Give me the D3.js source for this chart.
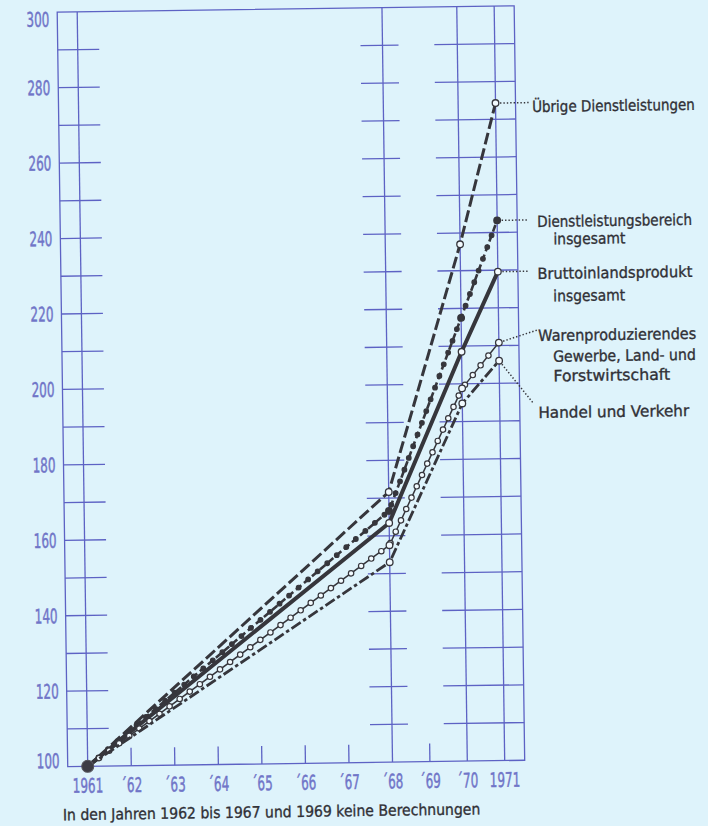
<!DOCTYPE html>
<html>
<head>
<meta charset="utf-8">
<script src="https://cdn.jsdelivr.net/npm/d3@7"></script>
<style>
  html, body { margin: 0; padding: 0; background: #def3fb; }
  svg { display: block; }
</style>
</head>
<body>
<svg id="chart" width="708" height="826"></svg>
<script>
// ---------------- DATA ----------------
const years = [1961, 1968, 1970, 1971];
const uebrigeDienstleistungen = [100, 171.6, 237.0, 274.3];
const dienstleistungsbereich = [100, 166.6, 217.5, 243.2];
const bruttoinlandsprodukt = [100, 163.4, 208.5, 229.6];
const warenproduzierendes = [100, 157.5, 198.8, 210.8];
const handelVerkehr = [100, 153.0, 194.8, 206.0];

const yTickLabels = [100, 120, 140, 160, 180, 200, 220, 240, 260, 280, 300];
const yGridValues = [110, 120, 130, 140, 150, 160, 170, 180, 190, 200, 210, 220, 230, 240, 250, 260, 270, 280, 290];
const xTickYears = [1961, 1962, 1963, 1964, 1965, 1966, 1967, 1968, 1969, 1970, 1971];
const xTickLabels = ["1961", "´62", "´63", "´64", "´65", "´66", "´67", "´68", "´69", "´70", "1971"];
const fullLineYears = [1961, 1968, 1970, 1971];

const seriesLabels = [
  ["Übrige Dienstleistungen"],
  ["Dienstleistungsbereich", "insgesamt"],
  ["Bruttoinlandsprodukt", "insgesamt"],
  ["Warenproduzierendes", "Gewerbe, Land- und", "Forstwirtschaft"],
  ["Handel und Verkehr"]
];
const footnote = "In den Jahren 1962 bis 1967 und 1969 keine Berechnungen";

// ---------------- LAYOUT / STYLE ----------------
const gridColor = "#5d62c4";
const axisTextColor = "#7075c8";
const inkColor = "#36363c";
const holeFill = "#f3fbff";

const x = d3.scaleLinear().domain([1961, 1968, 1971]).range([82.5, 387.3, 499.5]);
const y = d3.scaleLinear().domain([100, 300]).range([763.5, 9]);
const frameLeft = 62.5, frameRight = 519.5;

const seriesValues = [uebrigeDienstleistungen, dienstleistungsbereich, bruttoinlandsprodukt, warenproduzierendes, handelVerkehr];
const seriesStyle = [
  { dash: "12,4", width: 3.0, marker: "open", bead: null },
  { dash: "7,3.5", width: 2.6, marker: "filled", bead: { r: 2.3, spacing: 12.5, fill: inkColor } },
  { dash: null, width: 4.0, marker: "open", bead: null },
  { dash: null, width: 1.5, marker: "open", bead: { r: 2.7, spacing: 12.5, fill: holeFill } },
  { dash: "11,3,3.5,3", width: 2.8, marker: "open", bead: null }
];
const labelLayout = [
  { x: 536, x2: 536, base: [115.5], w: [163] },
  { x: 539.5, x2: 555.5, base: [230.5, 248], w: [155] , w2: [72]},
  { x: 539, x2: 554.5, base: [282.5, 305], w: [155] },
  { x: 539, x2: 553.5, base: [344.5, 365.5, 385], w: [158] },
  { x: 538, x2: 538, base: [421.5], w: [151] }
];
const labelWidths = [[163], [155, 72], [155, 72], [158, 143, 117], [151]];
const leaderEnds = [[533, null], [531, null], [530, null], [538, 333.5], [533, 406.5]];

// ---------------- DRAW ----------------
const svg = d3.select("#chart");
const g = svg.append("g").attr("transform", "rotate(-0.8,290,390)");

// helper: condensed text fitted to a target width via horizontal scaling
function fittedText(parent, str, tx, ty, width, opts) {
  const wrap = parent.append("g");
  const t = wrap.append("text")
    .attr("x", 0).attr("y", 0)
    .attr("font-family", opts.font).attr("font-size", opts.size)
    .attr("fill", opts.fill)
    .attr("stroke", opts.fill).attr("stroke-width", opts.stroke || 0)
    .attr("text-anchor", opts.anchor || "start")
    .text(str);
  const natural = t.node().getComputedTextLength();
  const s = width / natural;
  wrap.attr("transform", `translate(${tx},${ty}) scale(${s},1)`);
  return wrap;
}

// grid
const grid = g.append("g").attr("stroke", gridColor).attr("stroke-width", 1.3).attr("fill", "none");
grid.append("rect")
  .attr("x", frameLeft).attr("y", y(300))
  .attr("width", frameRight - frameLeft).attr("height", y(100) - y(300));
grid.selectAll("line.full").data(fullLineYears).enter().append("line")
  .attr("x1", d => x(d)).attr("x2", d => x(d))
  .attr("y1", y(300)).attr("y2", y(100));
grid.selectAll("line.minor").data(xTickYears.filter(d => !fullLineYears.includes(d))).enter().append("line")
  .attr("x1", d => x(d)).attr("x2", d => x(d))
  .attr("y1", y(100)).attr("y2", y(100) - 18);
const segs = [];
yGridValues.forEach(v => {
  segs.push([frameLeft, x(1961) + 21.5, v]);
  segs.push([x(1968) - 22, x(1968) + 16, v]);
  segs.push([x(1970) - 23, frameRight, v]);
});
grid.selectAll("line.seg").data(segs).enter().append("line")
  .attr("x1", d => d[0]).attr("x2", d => d[1])
  .attr("y1", d => y(d[2])).attr("y2", d => y(d[2]));

// axis labels (condensed digits)
const axisFont = "'DejaVu Sans', sans-serif";
g.selectAll("g.ylab").data(yTickLabels).enter().append("g")
  .attr("transform", d => {
    let off = 7.2;
    if (d === 300) off += 7;
    if (d === 100) off -= 6;
    return `translate(54.5,${y(d) + off}) scale(0.6,1)`;
  })
  .append("text")
  .attr("text-anchor", "end")
  .attr("font-family", axisFont).attr("font-size", 20)
  .attr("fill", axisTextColor)
  .attr("stroke", axisTextColor).attr("stroke-width", 0.5)
  .text(d => d);

g.selectAll("g.xlab").data(xTickYears).enter().append("g")
  .attr("transform", d => `translate(${x(d)},789.8) scale(0.6,1)`)
  .append("text")
  .attr("text-anchor", "middle")
  .attr("font-family", axisFont).attr("font-size", 20)
  .attr("fill", axisTextColor)
  .attr("stroke", axisTextColor).attr("stroke-width", 0.5)
  .text((d, i) => xTickLabels[i]);

// series lines
const line = d3.line().x(d => x(d[0])).y(d => y(d[1]));
const linesG = g.append("g");
seriesValues.forEach((vals, i) => {
  const st = seriesStyle[i];
  const pts = years.map((yr, j) => [yr, vals[j]]);
  const p = linesG.append("path")
    .attr("d", line(pts))
    .attr("fill", "none")
    .attr("stroke", inkColor)
    .attr("stroke-width", st.width)
    .attr("stroke-linejoin", "round");
  if (st.dash) p.attr("stroke-dasharray", st.dash);
  if (st.bead) {
    const node = p.node();
    const L = node.getTotalLength();
    const beadPts = [];
    for (let s = 14; s < L - 6; s += st.bead.spacing) beadPts.push(node.getPointAtLength(s));
    linesG.append("g").selectAll("circle").data(beadPts).enter().append("circle")
      .attr("cx", d => d.x).attr("cy", d => d.y).attr("r", st.bead.r)
      .attr("fill", st.bead.fill).attr("stroke", inkColor).attr("stroke-width", 1.2);
  }
  linesG.append("g").selectAll("circle").data(pts.slice(1)).enter().append("circle")
    .attr("cx", d => x(d[0])).attr("cy", d => y(d[1]))
    .attr("r", 3.3)
    .attr("fill", st.marker === "filled" ? inkColor : holeFill)
    .attr("stroke", inkColor).attr("stroke-width", 1.3);
});
linesG.append("circle")
  .attr("cx", x(years[0])).attr("cy", y(uebrigeDienstleistungen[0]))
  .attr("r", 6).attr("fill", "#3c3c44").attr("stroke", "#55555c").attr("stroke-width", 1);

// leaders and labels
const textFont = "'DejaVu Sans', sans-serif";
seriesValues.forEach((vals, i) => {
  const lastV = vals[vals.length - 1];
  const x0 = x(years[years.length - 1]);
  const y0 = y(lastV);
  const end = leaderEnds[i];
  const ex = end[0], ey = end[1] === null ? y0 : end[1];
  const dx = ex - x0, dy = ey - y0, len = Math.hypot(dx, dy);
  g.append("line")
    .attr("x1", x0 + dx / len * 4.5).attr("y1", y0 + dy / len * 4.5)
    .attr("x2", ex).attr("y2", ey)
    .attr("stroke", inkColor).attr("stroke-width", 1.5)
    .attr("stroke-dasharray", "1.4,2");
  const lay = labelLayout[i];
  seriesLabels[i].forEach((t, k) => {
    fittedText(g, t, k === 0 ? lay.x : lay.x2, lay.base[k], labelWidths[i][k],
      { font: textFont, size: 15.5, fill: "#303036", stroke: 0.35 });
  });
});

// footnote
fittedText(g, footnote, 57, 817, 418, { font: textFont, size: 15.5, fill: "#303036", stroke: 0.35 });
</script>
</body>
</html>
